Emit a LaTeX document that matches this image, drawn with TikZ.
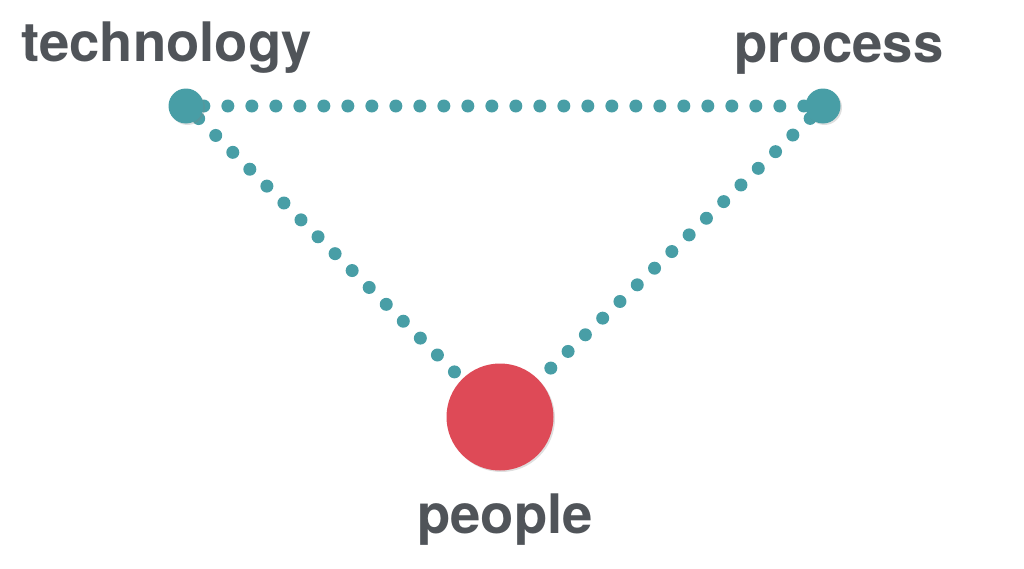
\documentclass[tikz,border=0pt]{standalone}
\usepackage{fontspec}
\setmainfont{TeX Gyre Heros}
\usetikzlibrary{shadows,backgrounds}
\definecolor{dotteal}{RGB}{72,158,166}
\definecolor{dotred}{RGB}{222,74,87}
\definecolor{labelgray}{RGB}{80,84,89}
\tikzset{
	smalldot/.style={circle, fill=dotteal, inner sep=0pt, minimum size=0.70cm, drop shadow={opacity=0.25, shadow xshift=0.03cm, shadow yshift=-0.03cm}},
	bigdot/.style={circle, fill=dotred, inner sep=0pt, minimum size=2.14cm, drop shadow={opacity=0.25, shadow xshift=0.03cm, shadow yshift=-0.03cm}},
	dotline/.style={dotteal, line width=0.26cm, line cap=round, dash pattern=on 0pt off 0.48cm},
	dotlabel/.style={anchor=base, text=labelgray, font=\fontsize{31}{31}\selectfont\bfseries}
}

\begin{document}
\begin{tikzpicture}
			%%%%% START %%%%%
			
			\useasboundingbox (0, 0) rectangle (20.48, 11.36);
			
			\node[smalldot] (tech) at (3.72, 9.24) {};
			\node[smalldot] (proc) at (16.46, 9.24) {};
			\node[bigdot] (people) at (10.0, 3.02) {};
			
			\begin{scope}[on background layer]
			\draw[dotline] (tech) -- (proc);
			\draw[dotline] (tech) -- (people);
			\draw[dotline] (proc) -- (people);
			\end{scope}
			
			\node[dotlabel] (techlabel) at (3.33, 10.14) {technology};
			\node[dotlabel] (proclabel) at (16.78, 10.12) {process};
			\node[dotlabel] (peoplelabel) at (10.1, 0.70) {people};
			
			%%%%% END %%%%%
		\end{tikzpicture}
\end{document}
